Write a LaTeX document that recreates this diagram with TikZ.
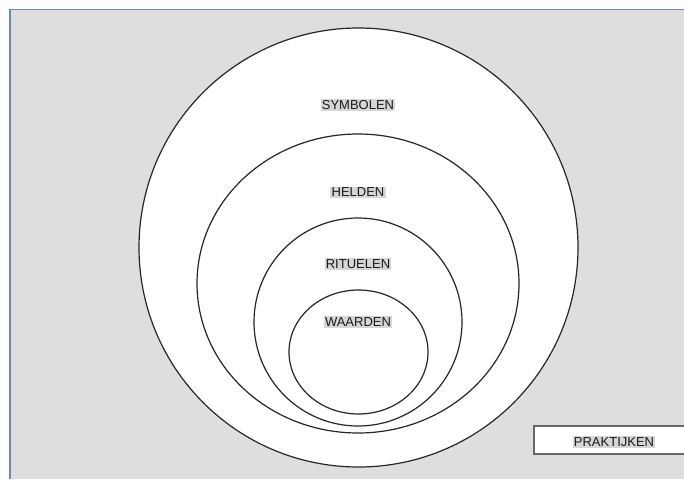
\documentclass[tikz,border=0pt]{standalone}
\usepackage{fontspec}
\setmainfont{Liberation Sans}

\begin{document}
\begin{tikzpicture}[x=1pt,y=-1pt]

    \useasboundingbox (0,0) rectangle (684,479);

    \definecolor{panelgray}{HTML}{DEDEDE}
    \definecolor{framblue}{HTML}{6A88B4}
    \definecolor{markgray}{HTML}{D6D6D6}

    \tikzset{ring/.style={draw=black!85, line width=1.2pt, fill=white},
             lbl/.style={fill=markgray, inner sep=1.3pt, text=black!90,
                         font=\fontsize{13}{15}\selectfont}}

    % Panel
    \fill[panelgray] (10,9.5) rectangle (684,479);
    \draw[framblue, line width=1.6pt] (10,479) -- (10,9.5) -- (684,9.5);

    % Layers, outside in
    \draw[ring] (358.5,247.5) circle [radius=219.5pt];
    \draw[ring] (358,283.5) ellipse [x radius=161pt, y radius=149.5pt];
    \draw[ring] (358,322) circle [radius=104pt];
    \draw[ring] (358.5,352) ellipse [x radius=69.5pt, y radius=62pt];

    \node[lbl] (symbolen) at (358,105) {SYMBOLEN};
    \node[lbl] (helden)   at (358,192.5) {HELDEN};
    \node[lbl] (rituelen) at (358,264) {RITUELEN};
    \node[lbl] (waarden)  at (358,322) {WAARDEN};

    % Practices box, runs off the right edge
    \fill[white] (534,426) rectangle (684,454);
    \draw[black!60, line width=1.4pt] (684,426) -- (534,426) -- (534,454) -- (684,454);
    \node[lbl] (praktijken) at (614,442) {PRAKTIJKEN};

\end{tikzpicture}
\end{document}
